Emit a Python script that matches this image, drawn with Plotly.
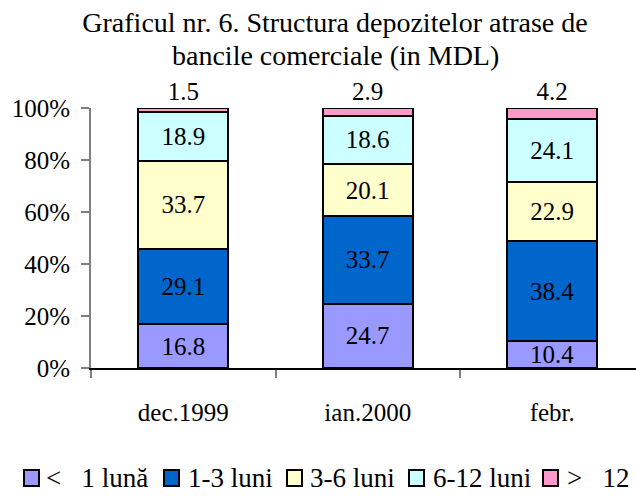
import plotly.graph_objects as go

categories = ["dec.1999", "ian.2000", "febr."]
series_names = ["<\u00a0\u00a0\u00a01 lună", "1-3 luni", "3-6 luni", "6-12 luni", ">\u00a0\u00a0\u00a012"]
lt1 = [16.8, 24.7, 10.4]
m1_3 = [29.1, 33.7, 38.4]
m3_6 = [33.7, 20.1, 22.9]
m6_12 = [18.9, 18.6, 24.1]
gt12 = [1.5, 2.9, 4.2]
colors = ["#9999FF", "#0066CC", "#FFFFCC", "#CCFFFF", "#FF99CC"]
y_ticks = [0, 20, 40, 60, 80, 100]
title_lines = ["Graficul nr. 6. Structura depozitelor atrase de", "bancile comerciale (in MDL)"]

FONT = "Liberation Serif, Times New Roman, serif"
values = [lt1, m1_3, m3_6, m6_12, gt12]

W, H = 636, 497
ML, MR, MT, MB = 91, 0, 108, 129
PW, PH = W - ML - MR, H - MT - MB


def px_x(p):
    return (p - ML) / PW


def px_y(p):
    return (H - MB - p) / PH


fig = go.Figure()
for i, (name, vals, col) in enumerate(zip(series_names, values, colors)):
    last = i == len(values) - 1
    fig.add_trace(go.Bar(
        x=categories, y=vals, name=name,
        marker=dict(color=col, line=dict(color="black", width=2)),
        width=0.49,
        texttemplate="%{y:.1f}",
        textposition="outside" if last else "inside",
        insidetextanchor="middle",
        constraintext="none",
        cliponaxis=False,
        textfont=dict(family=FONT, size=25, color="black"),
        showlegend=False,
    ))

# manual single-row legend
sym_x = [24, 164, 287, 409, 543]
txt_x = [44, 186, 308, 431, 565]
leg_y = 478
shapes = []
annotations = []
for name, col, sx, tx in zip(series_names, colors, sym_x, txt_x):
    shapes.append(dict(
        type="rect", xref="paper", yref="paper",
        x0=px_x(sx), x1=px_x(sx + 15), y0=px_y(leg_y + 8), y1=px_y(leg_y - 8),
        fillcolor=col, line=dict(color="black", width=2),
    ))
    annotations.append(dict(
        xref="paper", yref="paper", x=px_x(tx), y=px_y(leg_y),
        xanchor="left", yanchor="middle", showarrow=False, text=name,
        font=dict(family=FONT, size=27, color="black"),
    ))

# second title line
annotations.append(dict(
    xref="paper", yref="paper", x=px_x(335), y=px_y(55),
    xanchor="center", yanchor="middle", showarrow=False, text=title_lines[1],
    font=dict(family=FONT, size=28, color="black"),
))

fig.update_layout(
    barmode="stack",
    width=W, height=H,
    margin=dict(l=ML, r=MR, t=MT, b=MB, autoexpand=False),
    paper_bgcolor="white", plot_bgcolor="white",
    font=dict(family=FONT, size=25, color="black"),
    title=dict(
        text=title_lines[0],
        x=335 / W, xanchor="center", yref="container", y=1 - 22 / H, yanchor="middle",
        font=dict(family=FONT, size=28, color="black"),
        automargin=False,
    ),
    showlegend=False,
    shapes=shapes,
    annotations=annotations,
)
fig.update_xaxes(
    range=[-0.5, 2.454], automargin=False,
    showline=True, linecolor="black", linewidth=1.5,
    ticks="outside", tickson="boundaries", ticklen=8, tickcolor="#808080", tickwidth=2,
    ticklabelstandoff=21,
    tickfont=dict(family=FONT, size=25, color="black"),
    showgrid=False, zeroline=False,
)
fig.update_yaxes(
    range=[0, 100], automargin=False,
    tickvals=y_ticks, ticktext=[f"{v}%" for v in y_ticks],
    showline=True, linecolor="#808080", linewidth=2,
    ticks="outside", ticklen=8, tickcolor="#808080", tickwidth=1.5,
    ticklabelstandoff=6,
    tickfont=dict(family=FONT, size=25, color="black"),
    showgrid=False, zeroline=False,
)

fig.write_html(
    "out.html",
    config={"displayModeBar": False},
    post_script="document.body.style.margin='0';document.body.style.overflow='hidden';",
)
